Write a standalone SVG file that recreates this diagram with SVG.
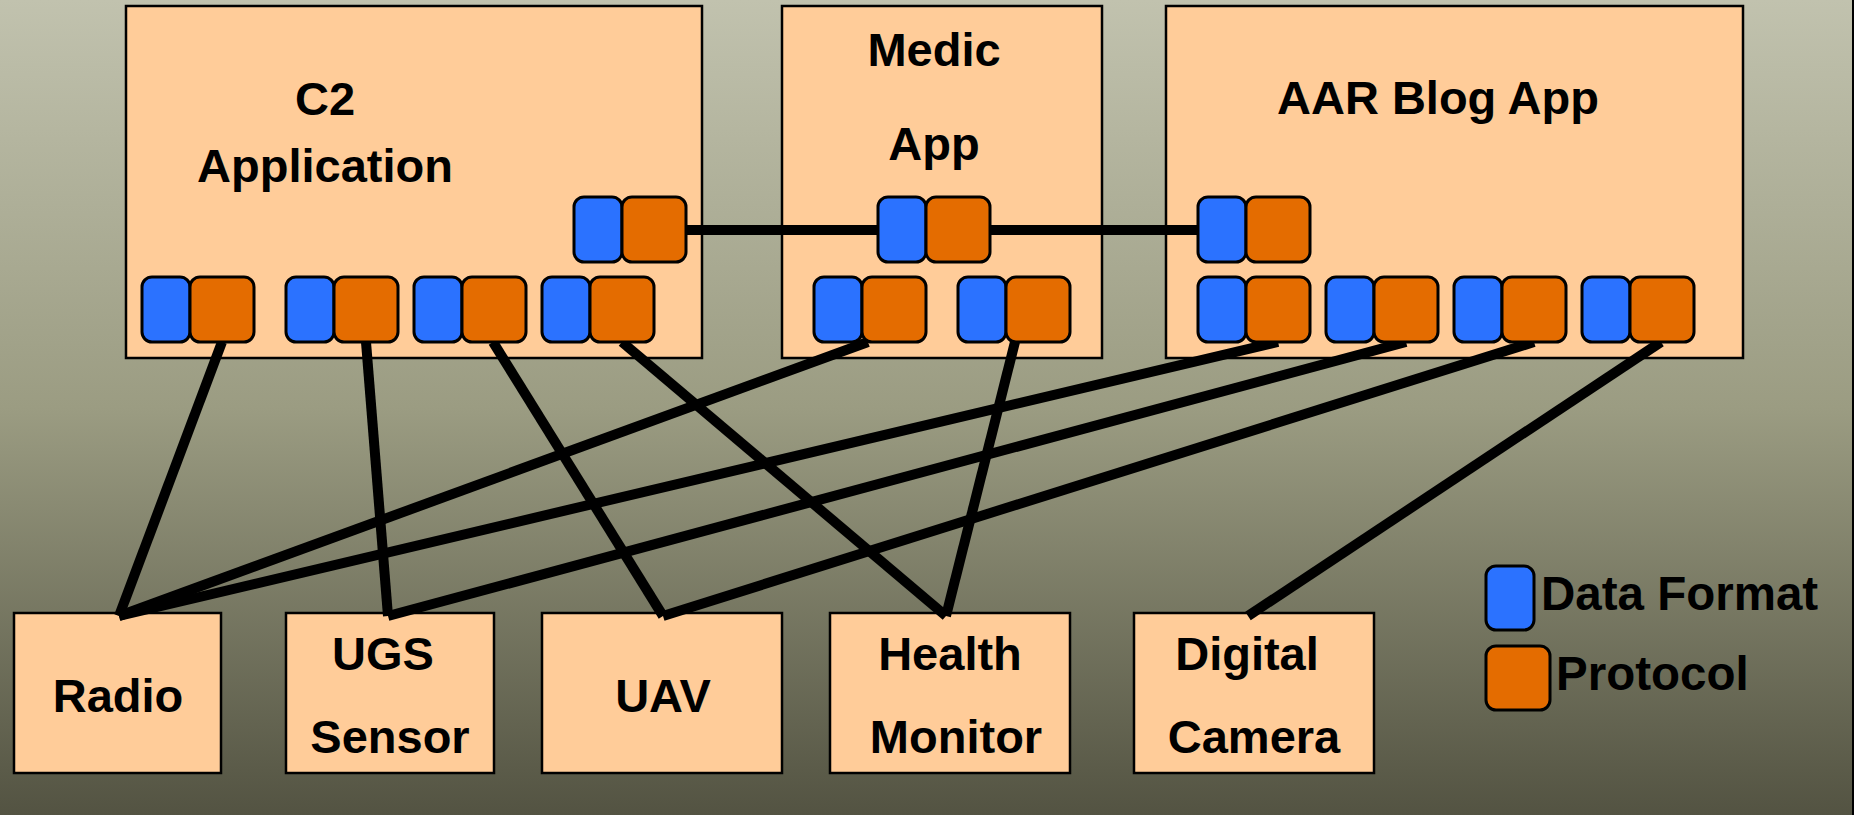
<svg xmlns="http://www.w3.org/2000/svg" width="1854" height="815" viewBox="0 0 1854 815">
  <defs>
    <linearGradient id="bg" x1="0" y1="0" x2="0" y2="1">
      <stop offset="0" stop-color="#c1c2ae"/>
      <stop offset="0.5" stop-color="#9b9c82"/>
      <stop offset="1" stop-color="#535342"/>
    </linearGradient>
  </defs>
  <style>
    .box { fill: #ffcc99; stroke: #000; stroke-width: 2.5; }
    .lbl { font-family: "Liberation Sans", Arial, sans-serif; font-weight: bold; font-size: 47px; fill: #000; text-anchor: middle; }
    .leg { font-family: "Liberation Sans", Arial, sans-serif; font-weight: bold; font-size: 47.5px; fill: #000; }
    .df { fill: #2b72ff; stroke: #000; stroke-width: 3; }
    .pr { fill: #e46c00; stroke: #000; stroke-width: 3; }
    .conn { stroke: #000; stroke-width: 10; fill: none; stroke-linecap: butt; }
  </style>
  <rect x="0" y="0" width="1854" height="815" fill="url(#bg)"/>
  <rect x="1852" y="0" width="2" height="815" fill="#000"/>

  <g id="c2-app">
    <rect class="box" x="126" y="6" width="576" height="352"/>
    <text class="lbl" x="325" y="115">C2</text>
    <text class="lbl" x="325" y="182">Application</text>
  </g>
  <g id="medic-app">
    <rect class="box" x="782" y="6" width="320" height="352"/>
    <text class="lbl" x="934" y="66">Medic</text>
    <text class="lbl" x="934" y="160">App</text>
  </g>
  <g id="aar-blog-app">
    <rect class="box" x="1166" y="6" width="577" height="352"/>
    <text class="lbl" x="1438" y="114">AAR Blog App</text>
  </g>

  <g id="radio">
    <rect class="box" x="14" y="613" width="207" height="160"/>
    <text class="lbl" x="118" y="712">Radio</text>
  </g>
  <g id="ugs-sensor">
    <rect class="box" x="286" y="613" width="208" height="160"/>
    <text class="lbl" x="383" y="670">UGS</text>
    <text class="lbl" x="390" y="753">Sensor</text>
  </g>
  <g id="uav">
    <rect class="box" x="542" y="613" width="240" height="160"/>
    <text class="lbl" x="663" y="712">UAV</text>
  </g>
  <g id="health-monitor">
    <rect class="box" x="830" y="613" width="240" height="160"/>
    <text class="lbl" x="950" y="670">Health</text>
    <text class="lbl" x="956" y="753">Monitor</text>
  </g>
  <g id="digital-camera">
    <rect class="box" x="1134" y="613" width="240" height="160"/>
    <text class="lbl" x="1247" y="670">Digital</text>
    <text class="lbl" x="1254" y="753">Camera</text>
  </g>

  <g id="connectors">
    <line class="conn" x1="686" y1="230" x2="1198" y2="230"/>
    <line class="conn" x1="222" y1="342" x2="119" y2="616"/>
    <line class="conn" x1="366" y1="342" x2="388" y2="616"/>
    <line class="conn" x1="493" y1="342" x2="663" y2="616"/>
    <line class="conn" x1="622" y1="342" x2="946" y2="616"/>
    <line class="conn" x1="868" y1="342" x2="119" y2="616"/>
    <line class="conn" x1="1015" y1="342" x2="946" y2="616"/>
    <line class="conn" x1="1278" y1="342" x2="119" y2="616"/>
    <line class="conn" x1="1406" y1="342" x2="388" y2="616"/>
    <line class="conn" x1="1534" y1="342" x2="663" y2="616"/>
    <line class="conn" x1="1661" y1="342" x2="1248" y2="616"/>
  </g>

  <g id="c2-ports">
    <rect class="df" x="574" y="197" width="48" height="65" rx="10"/>
    <rect class="pr" x="622" y="197" width="64" height="65" rx="10"/>
    <rect class="df" x="142" y="277" width="48" height="65" rx="10"/>
    <rect class="pr" x="190" y="277" width="64" height="65" rx="10"/>
    <rect class="df" x="286" y="277" width="48" height="65" rx="10"/>
    <rect class="pr" x="334" y="277" width="64" height="65" rx="10"/>
    <rect class="df" x="414" y="277" width="48" height="65" rx="10"/>
    <rect class="pr" x="462" y="277" width="64" height="65" rx="10"/>
    <rect class="df" x="542" y="277" width="48" height="65" rx="10"/>
    <rect class="pr" x="590" y="277" width="64" height="65" rx="10"/>
  </g>
  <g id="medic-ports">
    <rect class="df" x="878" y="197" width="48" height="65" rx="10"/>
    <rect class="pr" x="926" y="197" width="64" height="65" rx="10"/>
    <rect class="df" x="814" y="277" width="48" height="65" rx="10"/>
    <rect class="pr" x="862" y="277" width="64" height="65" rx="10"/>
    <rect class="df" x="958" y="277" width="48" height="65" rx="10"/>
    <rect class="pr" x="1006" y="277" width="64" height="65" rx="10"/>
  </g>
  <g id="aar-ports">
    <rect class="df" x="1198" y="197" width="48" height="65" rx="10"/>
    <rect class="pr" x="1246" y="197" width="64" height="65" rx="10"/>
    <rect class="df" x="1198" y="277" width="48" height="65" rx="10"/>
    <rect class="pr" x="1246" y="277" width="64" height="65" rx="10"/>
    <rect class="df" x="1326" y="277" width="48" height="65" rx="10"/>
    <rect class="pr" x="1374" y="277" width="64" height="65" rx="10"/>
    <rect class="df" x="1454" y="277" width="48" height="65" rx="10"/>
    <rect class="pr" x="1502" y="277" width="64" height="65" rx="10"/>
    <rect class="df" x="1582" y="277" width="48" height="65" rx="10"/>
    <rect class="pr" x="1630" y="277" width="64" height="65" rx="10"/>
  </g>

  <g id="legend">
    <rect class="df" x="1486" y="566" width="48" height="64" rx="10"/>
    <text class="leg" x="1541" y="610">Data Format</text>
    <rect class="pr" x="1486" y="646" width="64" height="64" rx="10"/>
    <text class="leg" x="1556" y="690">Protocol</text>
  </g>
</svg>
